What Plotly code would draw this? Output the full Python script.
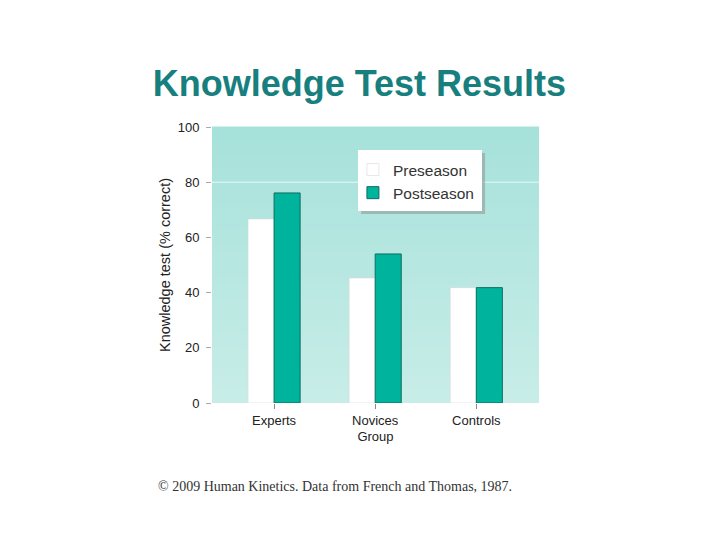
import plotly.graph_objects as go

categories = ["Experts", "Novices", "Controls"]
preseason = [66.7, 45.3, 41.8]
postseason = [76.1, 54.0, 41.8]
y_ticks = [0, 20, 40, 60, 80, 100]

fig = go.Figure()
fig.add_trace(go.Bar(
    x=categories, y=preseason, name="Preseason",
    marker=dict(color="#ffffff", line=dict(color="#d8d8d8", width=0.6)),
))
fig.add_trace(go.Bar(
    x=categories, y=postseason, name="Postseason",
    marker=dict(color="#00b39c", line=dict(color="#0b6e60", width=1)),
))

# vertical gradient background
n = 40
top = (166, 225, 218)
bot = (200, 237, 232)
shapes = []
for i in range(n):
    t = (i + 0.5) / n
    c = tuple(int(round(bot[k] + (top[k] - bot[k]) * t)) for k in range(3))
    shapes.append(dict(type="rect", xref="x domain", yref="y domain",
                       x0=0, x1=1, y0=i / n, y1=(i + 1) / n + 0.002,
                       fillcolor="rgb(%d,%d,%d)" % c, line=dict(width=0), layer="below"))
shapes.append(dict(type="line", xref="x domain", yref="y", x0=0, x1=1, y0=80, y1=80,
                   line=dict(color="#e8f8f5", width=1), layer="below"))
# legend box shadow and box
shapes.append(dict(type="rect", xref="paper", yref="paper",
                   x0=0.456, x1=0.835, y0=0.685, y1=0.906,
                   fillcolor="rgba(140,150,150,0.55)", line=dict(width=0), layer="above"))
shapes.append(dict(type="rect", xref="paper", yref="paper",
                   x0=0.4465, x1=0.8257, y0=0.6957, y1=0.9167,
                   fillcolor="#ffffff", line=dict(width=0), layer="above"))

fig.update_layout(
    width=720, height=540,
    margin=dict(l=204, r=189, t=119, b=145),
    paper_bgcolor="#ffffff", plot_bgcolor="#c8ede8",
    barmode="group", bargap=0.485, bargroupgap=0,
    shapes=shapes,
    font=dict(family="Liberation Sans, Arial, sans-serif", color="#222222", size=13),
    title=dict(text="<b>Knowledge Test Results</b>", x=0.488, xanchor="center",
               y=0.861, yref="container", yanchor="middle",
               font=dict(size=36, color="#17807f", family="Liberation Sans, Arial, sans-serif")),
    legend=dict(x=0.431, y=0.906, xanchor="left", yanchor="top",
                bgcolor="rgba(0,0,0,0)", borderwidth=0,
                font=dict(size=15.5, color="#333333"),
                tracegroupgap=2, itemwidth=30),
    xaxis=dict(range=[-0.614, 2.62], showline=False, ticks="outside", ticklen=5,
               tickcolor="#888888", tickfont=dict(size=13),
               title=dict(text="Group", font=dict(size=13), standoff=5)),
    yaxis=dict(range=[0, 100], tickvals=y_ticks, showgrid=False, zeroline=False,
               ticks="outside", ticklen=5, tickcolor="#aaaaaa",
               tickfont=dict(size=13), ticklabelstandoff=4,
               title=dict(text="Knowledge test (% correct)", font=dict(size=14.5), standoff=3)),
    annotations=[dict(text="© 2009 Human Kinetics. Data from French and Thomas, 1987.",
                      xref="paper", yref="paper", x=-0.172, y=-0.301,
                      xanchor="left", yanchor="middle", showarrow=False,
                      font=dict(family="Liberation Serif, Times New Roman, serif",
                                size=14, color="#333333"))],
)
fig.write_html("out.html")
